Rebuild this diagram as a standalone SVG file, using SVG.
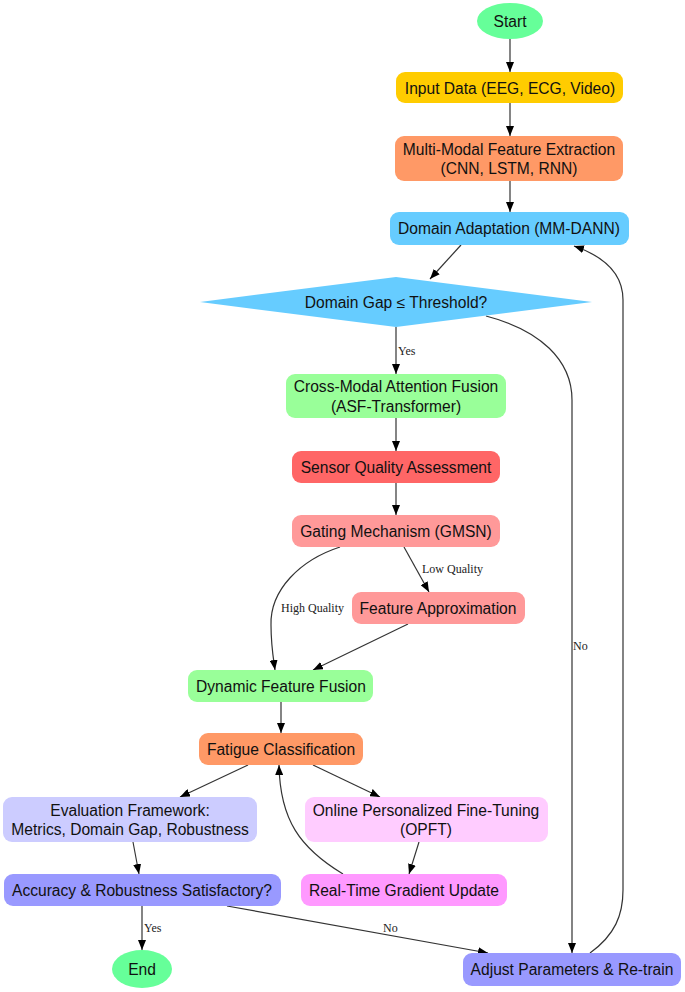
<svg xmlns="http://www.w3.org/2000/svg" width="685" height="992" viewBox="0 0 685 992">
<style>
.n{font-family:"Liberation Sans",Arial,sans-serif;font-size:15.6px;fill:#111;text-anchor:middle;dominant-baseline:central}
.l{font-family:"Liberation Serif","Times New Roman",serif;font-size:12px;fill:#222}
.e{fill:none;stroke:#333;stroke-width:1.2;marker-end:url(#a)}
</style>
<defs>
<marker id="a" markerWidth="10" markerHeight="8" refX="10" refY="4" orient="auto" markerUnits="userSpaceOnUse">
<path d="M0,0 L10,4 L0,8 z" fill="#000"/>
</marker>
</defs>
<rect width="685" height="992" fill="#fff"/>
<g id="edges">
<path class="e" d="M510,39 L510,72"/>
<path class="e" d="M510,103 L510,136"/>
<path class="e" d="M510,181 L510,212"/>
<path class="e" d="M461,245 L430,279"/>
<path class="e" d="M396,327 L396,374"/>
<path class="e" d="M396,418 L396,451"/>
<path class="e" d="M396,483 L396,515"/>
<path class="e" d="M340,547 C300,560 270,590 271,625 C271,645 273,656 275,670"/>
<path class="e" d="M404,547 L429,592"/>
<path class="e" d="M408,624 L313,670"/>
<path class="e" d="M281,702 L281,733"/>
<path class="e" d="M248,765 L180,797"/>
<path class="e" d="M313,765 L380,797"/>
<path class="e" d="M419,842 L409,874"/>
<path class="e" d="M343,874 C300,848 280,820 279,765"/>
<path class="e" d="M133,842 L139,874"/>
<path class="e" d="M142,906 L142,950"/>
<path class="e" d="M227,906 L488,953"/>
<path class="e" d="M486,316 C540,330 572,360 572,400 L572,953"/>
<path class="e" d="M590,953 C615,935 623,915 623,890 L623,300 C623,270 600,255 574,246"/>
<text class="l" x="398" y="355">Yes</text>
<text class="l" x="422" y="573">Low Quality</text>
<text class="l" x="281" y="612">High Quality</text>
<text class="l" x="573" y="650">No</text>
<text class="l" x="144" y="932">Yes</text>
<text class="l" x="383" y="932">No</text>
</g>
<g id="start"><ellipse cx="510" cy="21" rx="33" ry="18" fill="#66FF99"/><text class="n" x="510" y="21">Start</text></g>
<g id="input"><rect x="396" y="72" width="227" height="31" rx="9" fill="#FFCC00"/><text class="n" x="510" y="88">Input Data (EEG, ECG, Video)</text></g>
<g id="mmfe"><rect x="395" y="136" width="228" height="45" rx="9" fill="#FF9966"/><text class="n" x="509" y="149">Multi-Modal Feature Extraction</text><text class="n" x="509" y="168">(CNN, LSTM, RNN)</text></g>
<g id="da"><rect x="390" y="212" width="239" height="33" rx="9" fill="#66CCFF"/><text class="n" x="509" y="228">Domain Adaptation (MM-DANN)</text></g>
<g id="gap"><polygon points="396,277 592,302 396,327 200,302" fill="#66CCFF"/><text class="n" x="396" y="302">Domain Gap ≤ Threshold?</text></g>
<g id="cmaf"><rect x="286" y="374" width="220" height="44" rx="9" fill="#99FF99"/><text class="n" x="396" y="386">Cross-Modal Attention Fusion</text><text class="n" x="396" y="406">(ASF-Transformer)</text></g>
<g id="sqa"><rect x="292" y="451" width="208" height="32" rx="9" fill="#FF6666"/><text class="n" x="396" y="467">Sensor Quality Assessment</text></g>
<g id="gm"><rect x="292" y="515" width="208" height="32" rx="9" fill="#FF9999"/><text class="n" x="396" y="531">Gating Mechanism (GMSN)</text></g>
<g id="fa"><rect x="352" y="592" width="173" height="32" rx="9" fill="#FF9999"/><text class="n" x="438" y="608">Feature Approximation</text></g>
<g id="dff"><rect x="188" y="670" width="185" height="32" rx="9" fill="#99FF99"/><text class="n" x="281" y="686">Dynamic Feature Fusion</text></g>
<g id="fc"><rect x="199" y="733" width="164" height="32" rx="9" fill="#FF9966"/><text class="n" x="281" y="749">Fatigue Classification</text></g>
<g id="ef"><rect x="3" y="797" width="254" height="45" rx="9" fill="#CCCCFF"/><text class="n" x="130" y="810">Evaluation Framework:</text><text class="n" x="130" y="829">Metrics, Domain Gap, Robustness</text></g>
<g id="opft"><rect x="305" y="797" width="243" height="45" rx="9" fill="#FFCCFF"/><text class="n" x="426" y="810">Online Personalized Fine-Tuning</text><text class="n" x="426" y="829">(OPFT)</text></g>
<g id="acc"><rect x="4" y="874" width="277" height="32" rx="9" fill="#9999FF"/><text class="n" x="142" y="890">Accuracy &amp; Robustness Satisfactory?</text></g>
<g id="rtgu"><rect x="301" y="874" width="206" height="32" rx="9" fill="#FF99FF"/><text class="n" x="404" y="890">Real-Time Gradient Update</text></g>
<g id="end"><ellipse cx="142" cy="969" rx="30" ry="19" fill="#66FF99"/><text class="n" x="142" y="969">End</text></g>
<g id="adjust"><rect x="463" y="953" width="218" height="33" rx="9" fill="#9999FF"/><text class="n" x="572" y="969">Adjust Parameters &amp; Re-train</text></g>
</svg>
